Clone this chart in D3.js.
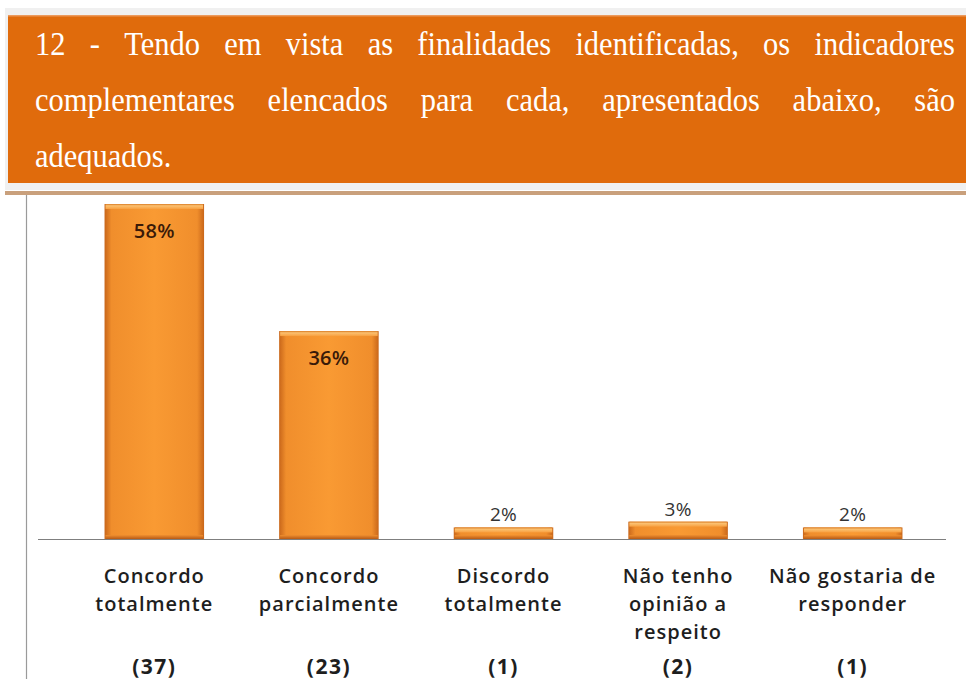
<!DOCTYPE html>
<html>
<head>
<meta charset="utf-8">
<script src="https://cdn.jsdelivr.net/npm/d3@7"></script>
<style>
  html, body { margin: 0; padding: 0; background: #ffffff; }
  svg { display: block; }
</style>
</head>
<body>
<svg id="chart" width="966" height="679"></svg>
<script>
// Question heading, split into lines (justified across the banner)
const titleLines = [
  "12 - Tendo em vista as finalidades identificadas, os indicadores",
  "complementares elencados para cada, apresentados abaixo, são",
  "adequados."
];

// Answer categories (each wrapped into lines)
const categories = [
  ["Concordo", "totalmente"],
  ["Concordo", "parcialmente"],
  ["Discordo", "totalmente"],
  ["Não tenho", "opinião a", "respeito"],
  ["Não gostaria de", "responder"]
];
// Share of respondents (%)
const percents = [58, 36, 2, 3, 2];
// Respondent counts
const counts = [37, 23, 1, 2, 1];

const svg = d3.select("#chart");
const defs = svg.append("defs");

// ---------- Heading banner ----------
svg.append("rect").attr("x", 5).attr("y", 8).attr("width", 961).attr("height", 182).attr("fill", "#f0f0f0");
svg.append("rect").attr("x", 8).attr("y", 16).attr("width", 958).attr("height", 167).attr("fill", "#e06b0c");
svg.append("rect").attr("x", 8).attr("y", 15).attr("width", 958).attr("height", 1.5).attr("fill", "#ec9a5c");
svg.append("rect").attr("x", 5).attr("y", 191).attr("width", 961).attr("height", 4).attr("fill", "#c9a07c");

const tLeft = 35, tRight = 955;
const titleY = [55, 111, 167];
titleLines.forEach((line, i) => {
  const words = line.split(" ");
  // slightly tall serif lettering
  const g = svg.append("g")
    .attr("transform", `translate(0,${titleY[i]}) scale(1,1.1)`);
  const nodes = words.map(w => g.append("text")
    .attr("y", 0)
    .attr("font-family", "'Liberation Serif', 'Times New Roman', serif")
    .attr("font-size", 30.5)
    .attr("fill", "#ffffff")
    .text(w));
  const widths = nodes.map(n => n.node().getComputedTextLength());
  const total = d3.sum(widths);
  const last = i === titleLines.length - 1;
  const gap = last ? 8 : (tRight - tLeft - total) / (words.length - 1);
  let x = tLeft;
  nodes.forEach((n, k) => { n.attr("x", x); x += widths[k] + gap; });
});

// ---------- Chart ----------
const baseY = 539;
const x = d3.scaleBand()
  .domain(d3.range(categories.length))
  .range([67, 940])
  .paddingInner(0.43)
  .paddingOuter(0.215);

const y = d3.scaleLinear().domain([0, 58]).range([baseY, 204]);

// Bar fill: dark edges, bright centre
const grad = defs.append("linearGradient").attr("id", "barGrad")
  .attr("x1", "0%").attr("x2", "100%").attr("y1", "0%").attr("y2", "0%");
[[0, "#c8661a"], [0.07, "#f08e2c"], [0.5, "#f99a33"], [0.93, "#f08e2c"], [1, "#c8661a"]]
  .forEach(([o, c]) => grad.append("stop").attr("offset", o).attr("stop-color", c));
const topGrad = defs.append("linearGradient").attr("id", "topGrad")
  .attr("x1", "0%").attr("x2", "0%").attr("y1", "0%").attr("y2", "100%");
[[0, "#d87a22"], [0.35, "#fbc070"], [1, "#f8a040"]]
  .forEach(([o, c]) => topGrad.append("stop").attr("offset", o).attr("stop-color", c));
const botGrad = defs.append("linearGradient").attr("id", "botGrad")
  .attr("x1", "0%").attr("x2", "0%").attr("y1", "0%").attr("y2", "100%");
[[0, "#f09030"], [1, "#b85a14"]]
  .forEach(([o, c]) => botGrad.append("stop").attr("offset", o).attr("stop-color", c));

// Left frame line
svg.append("line").attr("x1", 26.5).attr("x2", 26.5).attr("y1", 195).attr("y2", 679)
  .attr("stroke", "#9a9a9a").attr("stroke-width", 1.2);

const bars = svg.append("g").selectAll("g").data(percents).join("g");
bars.append("rect")
  .attr("x", (d, i) => x(i))
  .attr("y", d => y(d))
  .attr("width", x.bandwidth())
  .attr("height", d => baseY - y(d))
  .attr("fill", "url(#barGrad)");
// bevel on the top edge
bars.append("rect")
  .attr("x", (d, i) => x(i) + 1)
  .attr("y", d => y(d))
  .attr("width", x.bandwidth() - 2)
  .attr("height", d => Math.min(5, (baseY - y(d)) / 2))
  .attr("fill", "url(#topGrad)");
// shading on the bottom edge
bars.append("rect")
  .attr("x", (d, i) => x(i) + 1)
  .attr("y", d => baseY - Math.min(4, (baseY - y(d)) / 3))
  .attr("width", x.bandwidth() - 2)
  .attr("height", d => Math.min(4, (baseY - y(d)) / 3))
  .attr("fill", "url(#botGrad)");

// Baseline
svg.append("line").attr("x1", 38).attr("x2", 946).attr("y1", baseY + 0.5).attr("y2", baseY + 0.5)
  .attr("stroke", "#7f7f7f").attr("stroke-width", 1.2);

// Value labels: inside tall bars, above short bars
const labelFont = "'Open Sans', 'DejaVu Sans', sans-serif";
bars.append("text")
  .attr("x", (d, i) => x(i) + x.bandwidth() / 2)
  .attr("y", d => (baseY - y(d) > 60) ? y(d) + 34 : y(d) - 6)
  .attr("text-anchor", "middle")
  .attr("font-family", labelFont)
  .attr("font-size", d => (baseY - y(d) > 60) ? 20 : 19)
  .attr("font-weight", d => (baseY - y(d) > 60) ? 600 : 400)
  .attr("letter-spacing", 0.3)
  .attr("fill", d => (baseY - y(d) > 60) ? "#3a1a08" : "#333333")
  .text(d => d + "%");

// Category labels
const catG = svg.append("g");
categories.forEach((lines, i) => {
  const cx = x(i) + x.bandwidth() / 2;
  lines.forEach((ln, k) => {
    catG.append("text")
      .attr("x", cx)
      .attr("y", 583 + k * 28)
      .attr("text-anchor", "middle")
      .attr("font-family", labelFont)
      .attr("font-size", 20)
      .attr("font-weight", 600)
      .attr("letter-spacing", 1)
      .attr("fill", "#1e1e1e")
      .text(ln);
  });
  catG.append("text")
    .attr("x", cx)
    .attr("y", 674)
    .attr("text-anchor", "middle")
    .attr("font-family", labelFont)
    .attr("font-size", 21)
    .attr("font-weight", 700)
    .attr("letter-spacing", 1.5)
    .attr("fill", "#1e1e1e")
    .text("(" + counts[i] + ")");
});
</script>
</body>
</html>
